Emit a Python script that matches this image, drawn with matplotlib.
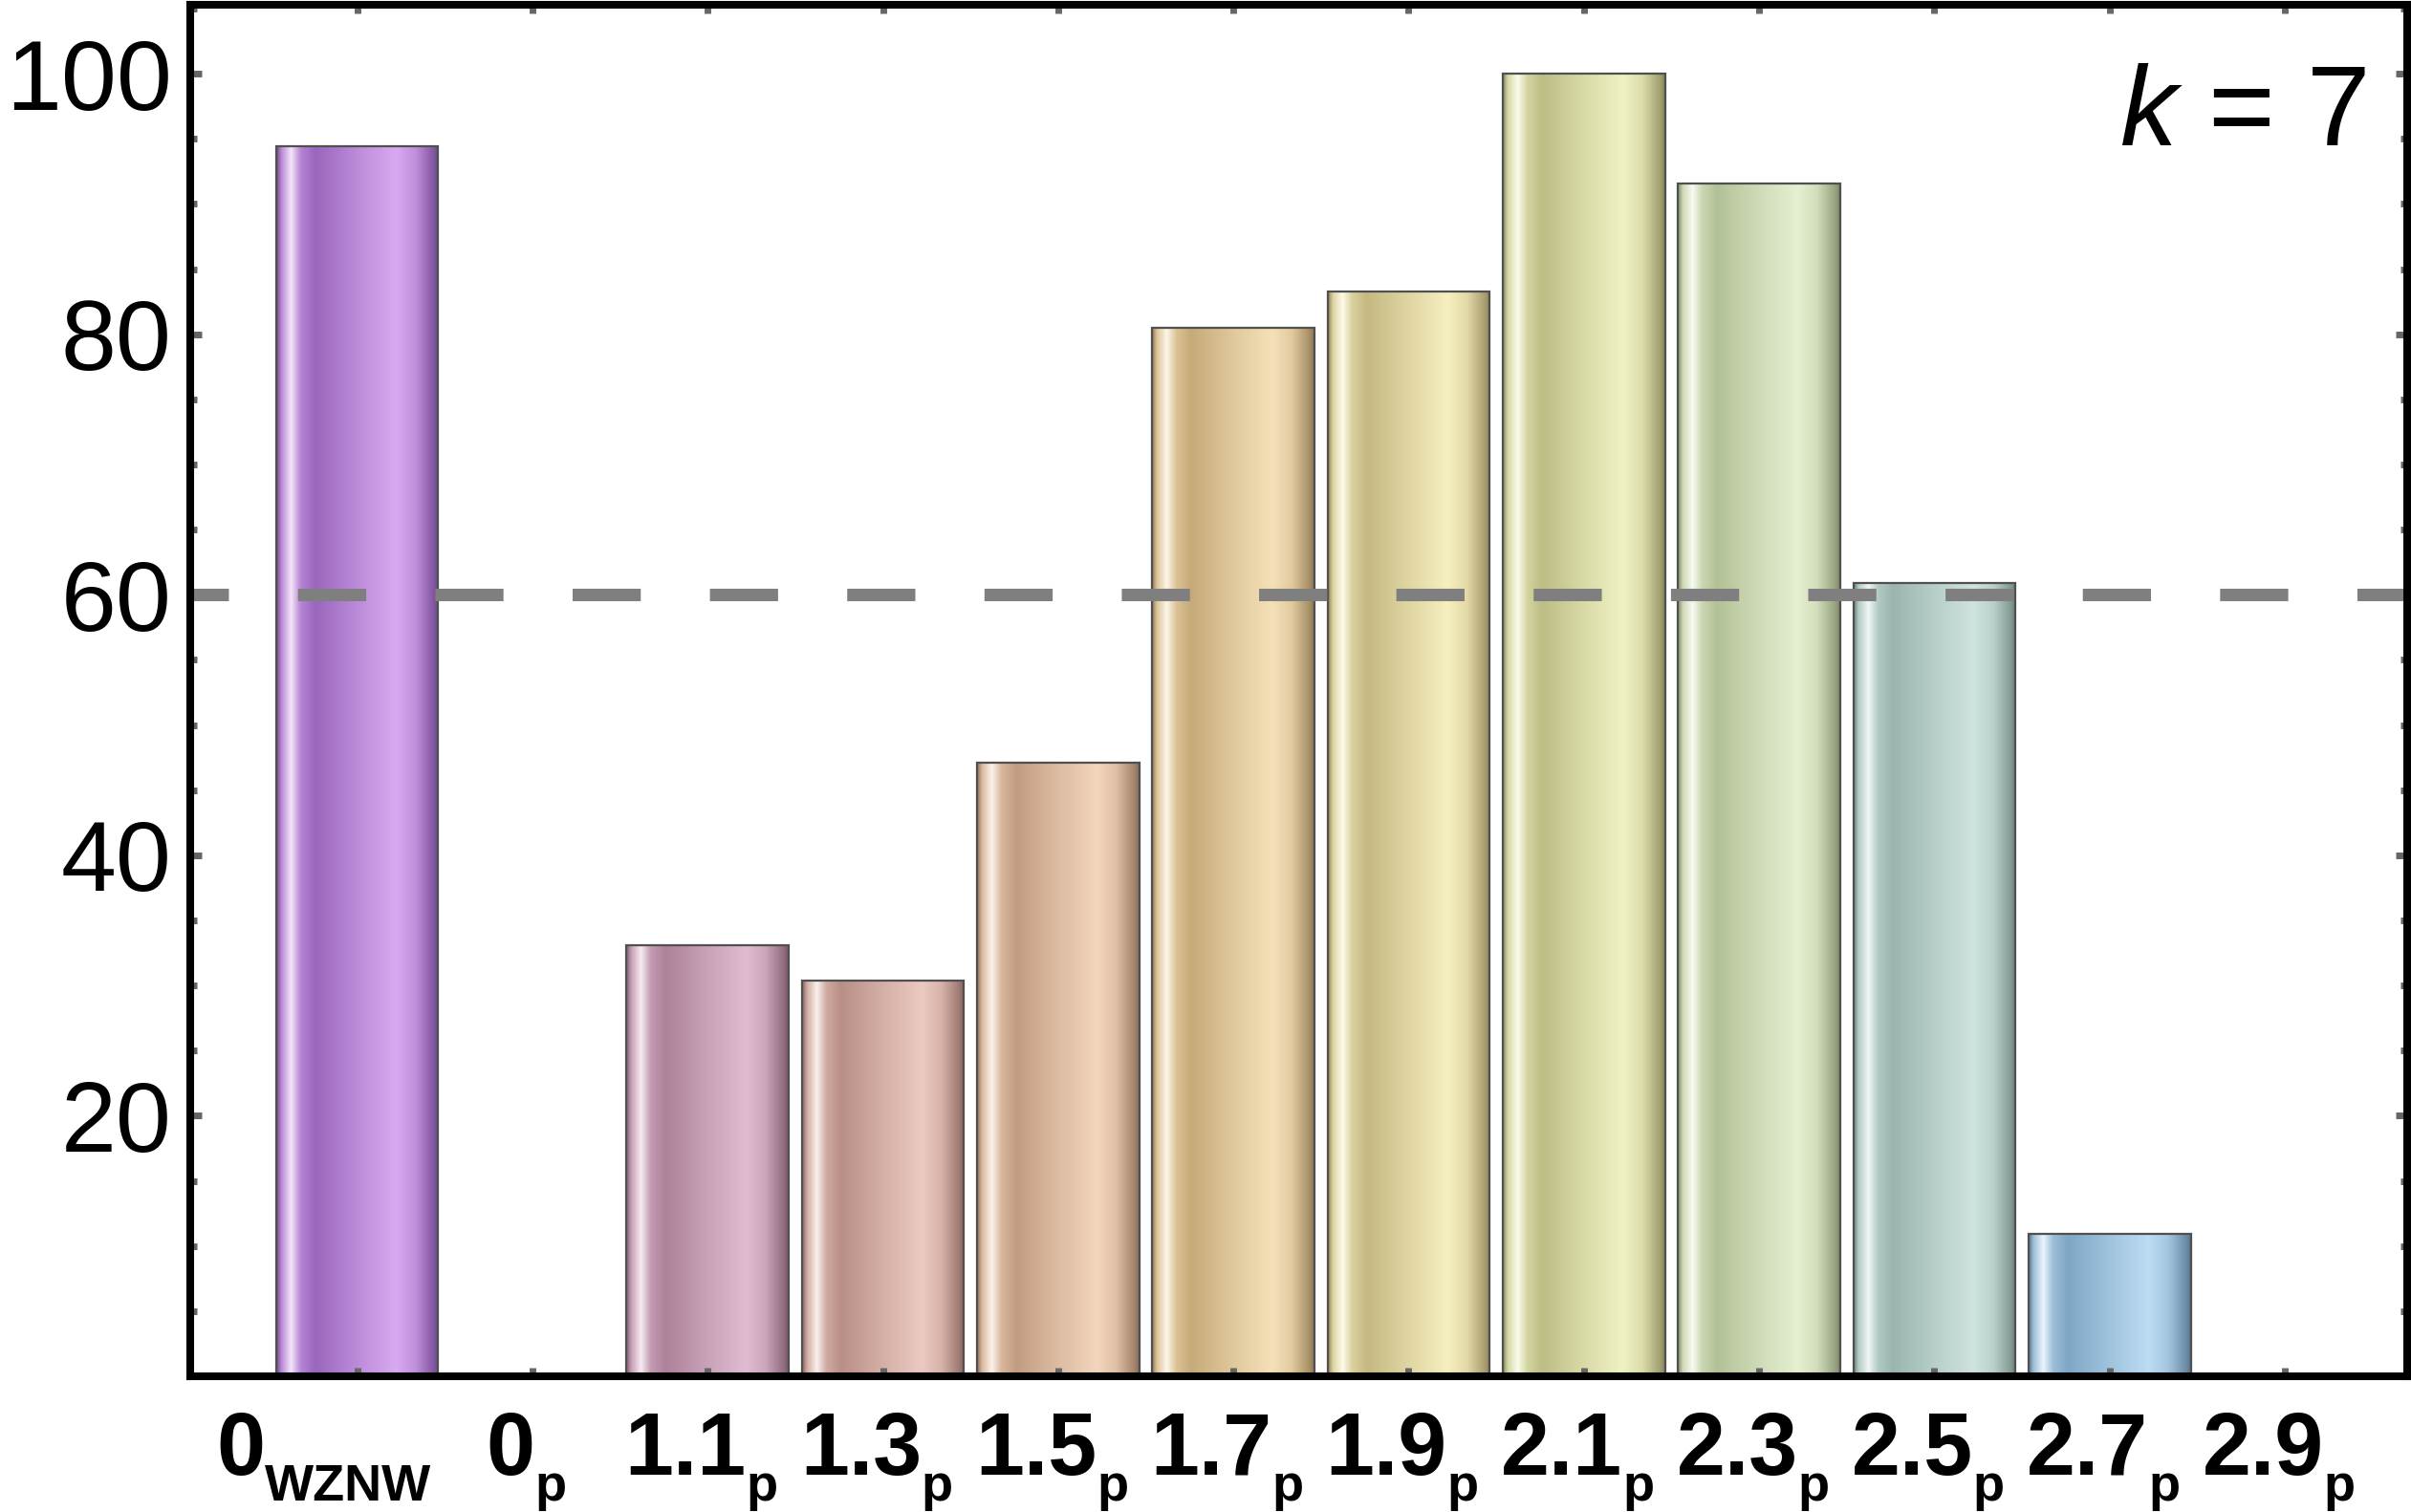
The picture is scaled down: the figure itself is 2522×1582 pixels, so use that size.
import numpy as np
import matplotlib
matplotlib.use('Agg')
import matplotlib.pyplot as plt
from matplotlib.colors import to_rgb
from matplotlib.ticker import MultipleLocator
from matplotlib.transforms import offset_copy

# ==========================================
# 1. DATOS
# ==========================================
etiquetas = ['0', '0', '1.1', '1.3', '1.5', '1.7', '1.9', '2.1', '2.3', '2.5', '2.7', '2.9']
subindices = ['WZNW', 'p', 'p', 'p', 'p', 'p', 'p', 'p', 'p', 'p', 'p', 'p']
valores = [94.4, 0, 33.1, 30.4, 47.1, 80.5, 83.3, 100.0, 91.6, 60.9, 10.9, 0]
umbral = 60
yticks = [0, 20, 40, 60, 80, 100]
ytick_labels = ['', '20', '40', '60', '80', '100']

# tonos (oscuro / claro) de cada barra; las barras de altura 0 no se pintan
color_oscuro = ['#9a66be', '#9a9a9a', '#ad8199', '#b98f86', '#c29c81', '#c6aa79',
                '#c5b881', '#bdbd84', '#b3c197', '#9ab5ae', '#7fa6c4', '#9a9a9a']
color_claro = ['#d8aaf0', '#dddddd', '#e0bdd2', '#ebcac1', '#f2d6bd', '#f5e1b9',
               '#f6efbf', '#eff2c3', '#e6f0d2', '#cfe3e0', '#bcdcf3', '#dddddd']

plt.rcParams['font.family'] = 'Liberation Sans'
plt.rcParams['mathtext.fontset'] = 'custom'
plt.rcParams['mathtext.rm'] = 'Liberation Sans'
plt.rcParams['mathtext.it'] = 'Liberation Sans:italic'


def mezcla(a, b, t):
    a, b = np.array(to_rgb(a)), np.array(to_rgb(b))
    return a * (1 - t) + b * t


def gradiente(oscuro, claro, n=300):
    osc = np.array(to_rgb(oscuro))
    cla = np.array(to_rgb(claro))
    paradas = [
        (0.00, osc * 0.72),
        (0.03, mezcla(osc, cla, 0.5)),
        (0.09, mezcla(cla, '#ffffff', 0.7)),
        (0.15, mezcla(osc, cla, 0.45)),
        (0.24, osc),
        (0.50, mezcla(osc, cla, 0.55)),
        (0.74, cla),
        (0.86, mezcla(osc, cla, 0.6)),
        (0.97, osc * 0.85),
        (1.00, osc * 0.7),
    ]
    pos = [p[0] for p in paradas]
    cols = np.array([p[1] for p in paradas])
    xs = np.linspace(0, 1, n)
    img = np.stack([np.interp(xs, pos, cols[:, c]) for c in range(3)], axis=-1)
    return np.clip(img, 0, 1)[np.newaxis, :, :]


# ==========================================
# 2. FIGURA
# ==========================================
fig = plt.figure(figsize=(25.22, 15.82), dpi=100)
ax = fig.add_axes([0.0789, 0.0898, 0.9197, 0.9071])
ax.set_axisbelow(False)

x = np.arange(len(valores))
barras = ax.bar(x, valores, width=0.925, facecolor='none', edgecolor='#505050',
                linewidth=1.6, zorder=2)

for i, b in enumerate(barras):
    if b.get_height() <= 0:
        continue
    x0, w, h = b.get_x(), b.get_width(), b.get_height()
    im = ax.imshow(gradiente(color_oscuro[i], color_claro[i]), extent=(x0, x0 + w, 0, h),
                   aspect='auto', interpolation='bilinear', zorder=1.9)
    im.set_clip_path(b)

ax.axhline(umbral, color='#7f7f7f', lw=9.4, linestyle=(2.4, (5.46, 5.54)), zorder=4)

ax.set_xlim(-0.952, 11.70)
ax.set_ylim(0, 105.3)

for s in ax.spines.values():
    s.set_linewidth(5.8)
    s.set_color('black')
    s.set_zorder(5)

ax.set_yticks(yticks)
ax.set_yticklabels(ytick_labels)
ax.yaxis.set_minor_locator(MultipleLocator(5))
ax.tick_params(axis='y', which='major', direction='in', length=8.6, width=5,
               color='#666666', left=True, right=True, labelsize=75, pad=14)
ax.tick_params(axis='y', which='minor', direction='in', length=5, width=5,
               color='#666666', left=True, right=True)
ax.set_xticks(x)
ax.tick_params(axis='x', which='major', direction='in', length=6.5, width=5,
               color='#666666', top=True, bottom=True, labelbottom=False)

ax.text(0.9813, 0.8976, r'$k$ = 7', transform=ax.transAxes, ha='right', va='baseline',
        fontsize=86)

# etiquetas del eje x con subíndice
fig.canvas.draw()
r = fig.canvas.get_renderer()
trans = ax.get_xaxis_transform()
for i, (m, s) in enumerate(zip(etiquetas, subindices)):
    t1 = ax.text(i, 0, m, transform=trans, fontsize=66, fontweight='bold',
                 ha='left', va='baseline')
    t2 = ax.text(i, 0, s, transform=trans, fontsize=39, fontweight='bold',
                 ha='left', va='baseline')
    w1 = t1.get_window_extent(r).width
    w2 = t2.get_window_extent(r).width
    inicio = -(w1 + 1.4 * w2) / 2
    t1.set_transform(offset_copy(trans, fig=fig, x=inicio, y=-103, units='dots'))
    t2.set_transform(offset_copy(trans, fig=fig, x=inicio + w1, y=-130, units='dots'))

fig.savefig('out.png', dpi=100)
